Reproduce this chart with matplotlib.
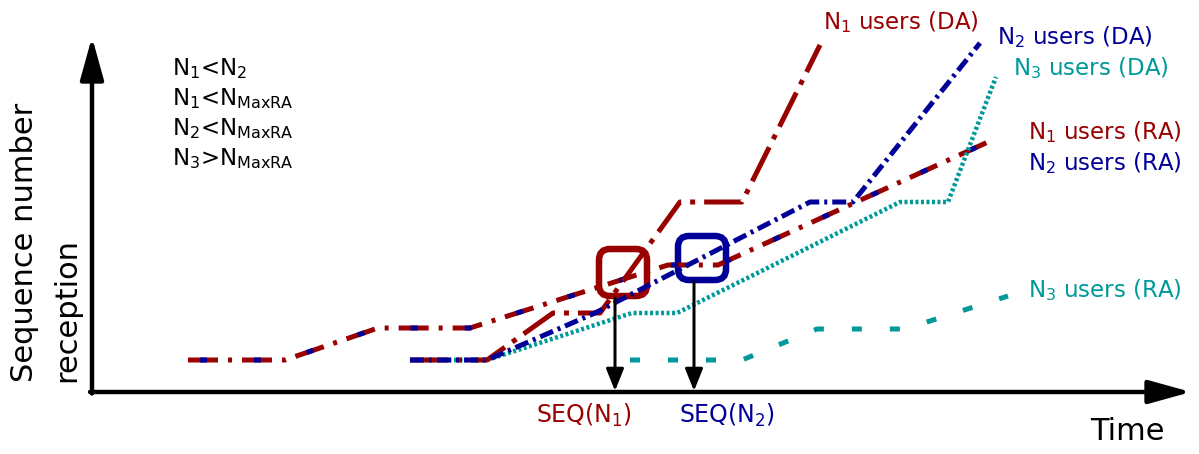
import matplotlib
matplotlib.use("Agg")
import matplotlib.pyplot as plt
from matplotlib.patches import FancyBboxPatch

plt.rcParams['font.family'] = ['DejaVu Sans']
plt.rcParams['mathtext.fontset'] = 'dejavusans'
plt.rcParams['lines.scale_dashes'] = False

RED = '#990000'
BLUE = '#000099'
TEAL = '#009999'

# ---- data (time, sequence number) in schematic units ----
n1_ra_x = [96, 193, 286, 378, 576, 626, 896]
n1_ra_y = [32, 32, 64, 64, 127, 127, 250]
n2_ra_x = [96, 193, 286, 378, 576, 626, 896]
n2_ra_y = [32, 32, 64, 64, 127, 127, 250]
n3_ra_x = [538, 650, 725, 813, 916]
n3_ra_y = [32, 32, 63, 63, 96]

n1_da_x = [318, 395, 461, 508, 588, 650, 728]
n1_da_y = [32, 32, 79, 79, 190, 190, 347]
n2_da_x = [318, 395, 503, 718, 761, 888]
n2_da_y = [32, 32, 79, 190, 190, 349]
n3_da_x = [318, 395, 540, 585, 808, 856, 904]
n3_da_y = [32, 32, 79, 79, 190, 190, 315]

seq_n1_x = 523
seq_n1_y = 94
seq_n2_x = 602
seq_n2_y = 110

conditions = [r"N$_1$<N$_2$", r"N$_1$<N$_{\mathrm{MaxRA}}$",
              r"N$_2$<N$_{\mathrm{MaxRA}}$", r"N$_3$>N$_{\mathrm{MaxRA}}$"]

PX = 0.72  # points per pixel at 100 dpi

fig = plt.figure(figsize=(11.99, 4.54), dpi=100)
ax = fig.add_axes([0, 0, 1, 1])
ax.set_xlim(-92, 1107)
ax.set_ylim(-62, 392)
ax.axis('off')

# axes with arrows
ax.annotate('', xy=(0, 355), xytext=(0, -1.5),
            arrowprops=dict(arrowstyle='-|>,head_length=1.3,head_width=0.36',
                            mutation_scale=20, lw=3.2, color='black',
                            shrinkA=0, shrinkB=0))
ax.annotate('', xy=(1099, 0), xytext=(-2, 0),
            arrowprops=dict(arrowstyle='-|>,head_length=1.3,head_width=0.36',
                            mutation_scale=20, lw=3.2, color='black',
                            shrinkA=0, shrinkB=0))

# RA lines
ax.plot(n1_ra_x, n1_ra_y, color=RED, lw=5 * PX,
        linestyle=(0, (30 * PX, 10 * PX, 4 * PX, 10 * PX)))
ax.plot(n2_ra_x, n2_ra_y, color=BLUE, lw=5 * PX,
        linestyle=(42 * PX, (7 * PX, 47 * PX)))
ax.plot(n3_ra_x, n3_ra_y, color=TEAL, lw=5 * PX,
        linestyle=(0, (10 * PX, 28 * PX)))

# DA lines
ax.plot(n3_da_x, n3_da_y, color=TEAL, lw=4.5 * PX,
        linestyle=(0, (3 * PX, 2.5 * PX)))
ax.plot(n1_da_x, n1_da_y, color=RED, lw=5 * PX,
        linestyle=(0, (38 * PX, 9 * PX, 5 * PX, 9 * PX)))
ax.plot(n2_da_x, n2_da_y, color=BLUE, lw=5 * PX,
        linestyle=(0, (14 * PX, 5 * PX, 3 * PX, 5 * PX)))

# highlight boxes
ax.add_patch(FancyBboxPatch((seq_n1_x - 16, seq_n1_y + 2), 48, 47,
                            boxstyle='round,pad=0,rounding_size=11',
                            fill=False, ec=RED, lw=6.5 * PX))
ax.add_patch(FancyBboxPatch((seq_n2_x - 16, seq_n2_y + 2), 48, 44,
                            boxstyle='round,pad=0,rounding_size=11',
                            fill=False, ec=BLUE, lw=6.5 * PX))

# arrows to time axis
for xv, yv in [(seq_n1_x, seq_n1_y), (seq_n2_x, seq_n2_y)]:
    ax.annotate('', xy=(xv, 1), xytext=(xv, yv),
                arrowprops=dict(arrowstyle='-|>,head_length=0.75,head_width=0.3',
                                mutation_scale=18, lw=3 * PX, color='black',
                                shrinkA=0, shrinkB=0))

# texts
lab_fs = 16.5
ax.text(731, 363, r"N$_1$ users (DA)", color=RED, fontsize=lab_fs, va='baseline')
ax.text(905, 348, r"N$_2$ users (DA)", color=BLUE, fontsize=lab_fs, va='baseline')
ax.text(921, 317, r"N$_3$ users (DA)", color=TEAL, fontsize=lab_fs, va='baseline')
ax.text(936, 253, r"N$_1$ users (RA)", color=RED, fontsize=lab_fs, va='baseline')
ax.text(936, 222, r"N$_2$ users (RA)", color=BLUE, fontsize=lab_fs, va='baseline')
ax.text(936, 95, r"N$_3$ users (RA)", color=TEAL, fontsize=lab_fs, va='baseline')

for i, c in enumerate(conditions):
    ax.text(80, 317 - 30 * i, c, color='black', fontsize=lab_fs, va='baseline')

ax.text(444, -31, r"SEQ(N$_{\mathregular{1}}$)", color=RED, fontsize=17, va='baseline')
ax.text(587, -31, r"SEQ(N$_{\mathregular{2}}$)", color=BLUE, fontsize=17, va='baseline')

ax.text(998, -48, "Time", color='black', fontsize=22, va='baseline')
ax.text(-67, 10, "Sequence number", color='black', fontsize=22,
        rotation=90, ha='center', va='bottom')
ax.text(-25, 10, "reception", color='black', fontsize=22,
        rotation=90, ha='center', va='bottom')

fig.savefig('out.png', dpi=100)
